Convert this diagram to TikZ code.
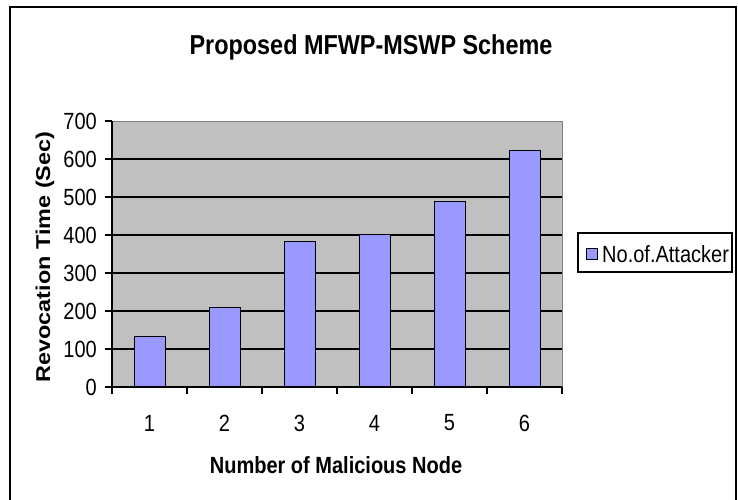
\documentclass[tikz,border=0pt]{standalone}
\usepackage{fontspec}
\setmainfont{Liberation Sans}
\usetikzlibrary{positioning}
\definecolor{mygray}{RGB}{192,192,192}
\definecolor{myborder}{RGB}{128,128,128}
\definecolor{mybar}{RGB}{153,153,255}

\begin{document}
\begin{tikzpicture}[x=1pt,y=-1pt]

\tikzstyle{barbox} = [draw=black, line width=1pt, fill=mybar]
\tikzstyle{gridline} = [draw=black, line width=1.2pt]
\tikzstyle{ticklabel} = [font=\fontsize{20}{24}\selectfont, yscale=1.17, inner sep=0]
\tikzstyle{axislabel} = [font=\bfseries\fontsize{20}{24}\selectfont, yscale=1.17, inner sep=0]

\useasboundingbox (0,0) rectangle (738,500);

% outer frame (open at the bottom)
\draw[line width=1.6pt] (10,500) -- (10,7) -- (736,7) -- (736,500);

\node[font=\bfseries\fontsize{23.4}{28}\selectfont, yscale=1.17, inner sep=0] (title) at (371,47) {Proposed MFWP-MSWP Scheme};

% =========================
% plot area
% =========================
\fill[mygray] (112,121) rectangle (562,387);
\draw[myborder, line width=1pt] (112,121) -- (562,121) -- (562,387);

\draw[gridline] (112,349) -- (562,349);
\draw[gridline] (112,311) -- (562,311);
\draw[gridline] (112,273) -- (562,273);
\draw[gridline] (112,235) -- (562,235);
\draw[gridline] (112,197) -- (562,197);
\draw[gridline] (112,159) -- (562,159);

% =========================
% bars
% =========================
\draw[barbox] (134,387) rectangle (165,336);
\draw[barbox] (209,387) rectangle (240,307);
\draw[barbox] (284,387) rectangle (315,241);
\draw[barbox] (359,387) rectangle (390,234);
\draw[barbox] (434,387) rectangle (465,201);
\draw[barbox] (509,387) rectangle (540,150);

% =========================
% axes and ticks
% =========================
\draw[line width=1.4pt] (112,121) -- (112,387) -- (562,387);

\draw[gridline] (105,387) -- (112,387);
\draw[gridline] (105,349) -- (112,349);
\draw[gridline] (105,311) -- (112,311);
\draw[gridline] (105,273) -- (112,273);
\draw[gridline] (105,235) -- (112,235);
\draw[gridline] (105,197) -- (112,197);
\draw[gridline] (105,159) -- (112,159);
\draw[gridline] (105,121) -- (112,121);

\draw[gridline] (112,387) -- (112,394);
\draw[gridline] (187,387) -- (187,394);
\draw[gridline] (262,387) -- (262,394);
\draw[gridline] (337,387) -- (337,394);
\draw[gridline] (412,387) -- (412,394);
\draw[gridline] (487,387) -- (487,394);
\draw[gridline] (562,387) -- (562,394);

\node[ticklabel, anchor=east] (y0) at (97,387) {0};
\node[ticklabel, anchor=east] (y100) at (97,349) {100};
\node[ticklabel, anchor=east] (y200) at (97,311) {200};
\node[ticklabel, anchor=east] (y300) at (97,273) {300};
\node[ticklabel, anchor=east] (y400) at (97,235) {400};
\node[ticklabel, anchor=east] (y500) at (97,197) {500};
\node[ticklabel, anchor=east] (y600) at (97,159) {600};
\node[ticklabel, anchor=east] (y700) at (97,121) {700};

\node[ticklabel] (x1) at (149.5,423) {1};
\node[ticklabel] (x2) at (224.5,423) {2};
\node[ticklabel] (x3) at (299.5,423) {3};
\node[ticklabel] (x4) at (374.5,423) {4};
\node[ticklabel] (x5) at (449.5,423) {5};
\node[ticklabel] (x6) at (524.5,423) {6};

\node[axislabel] (xlabel) at (336,465) {Number of Malicious Node};
\node[axislabel, rotate=90] (ylabel) at (45,257) {Revocation Time (Sec)};

% =========================
% legend
% =========================
\draw[line width=1.2pt] (578,233) rectangle (732,272);
\node[draw=black, line width=1pt, fill=mybar, minimum size=11pt, inner sep=0] (key) at (591.5,253.5) {};
\node[ticklabel, anchor=west] (keytext) at (602,254) {No.of.Attacker};

\end{tikzpicture}
\end{document}
